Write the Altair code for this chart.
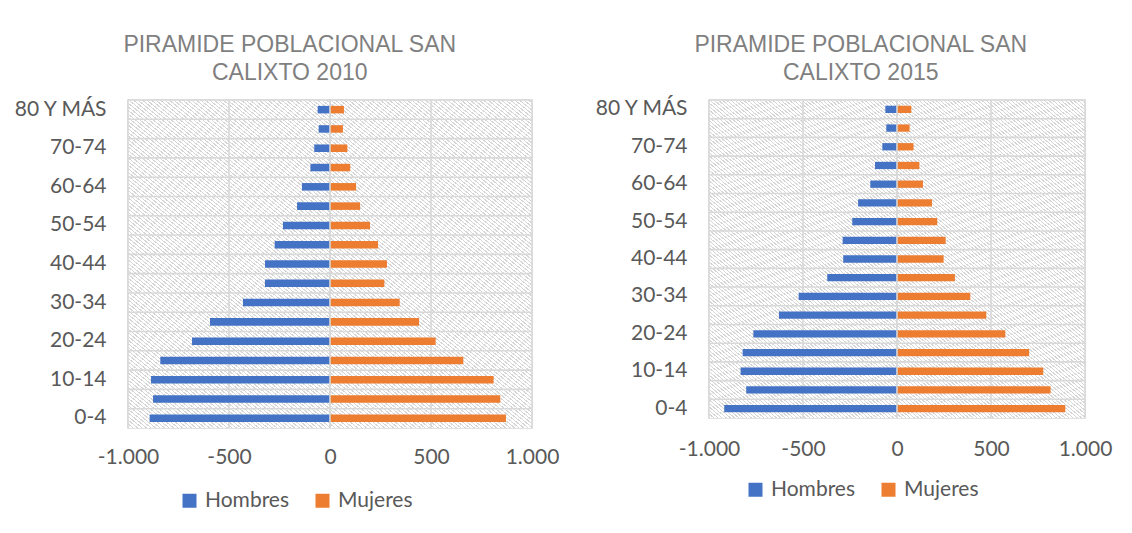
import json
import altair as alt
import pandas as pd

ages = ["0-4", "5-9", "10-14", "15-19", "20-24", "25-29", "30-34", "35-39", "40-44",
        "45-49", "50-54", "55-59", "60-64", "65-69", "70-74", "75-79", "80 Y MÁS"]
shown_ages = ages[::2]
sexes = ["Hombres", "Mujeres"]

hombres_2010 = [-893, -876, -886, -840, -683, -594, -431, -322, -322, -274, -233, -163, -139, -97, -78, -56, -61]
mujeres_2010 = [871, 843, 810, 660, 523, 441, 345, 269, 282, 238, 198, 149, 129, 100, 86, 64, 69]
hombres_2015 = [-919, -802, -832, -821, -764, -628, -523, -371, -286, -289, -238, -207, -142, -117, -78, -57, -62]
mujeres_2015 = [895, 817, 778, 703, 576, 475, 390, 308, 248, 259, 214, 186, 138, 119, 88, 67, 76]
x_ticks = [-1000, -500, 0, 500, 1000]

LABEL_FONT = "Lato"
GRID = "#d9d9d9"
TEXT = "#595959"

# light diagonal hatch used as the plot-area background (style only)
N_STRIPES = 180
STRIPE_FRAC = 0.35
hatch_stops = []
for i in range(N_STRIPES):
    t0 = i / N_STRIPES
    t1 = (i + STRIPE_FRAC) / N_STRIPES
    t2 = (i + 1) / N_STRIPES
    hatch_stops += [
        {"offset": round(t0, 6), "color": "#d6d6d6"},
        {"offset": round(t1, 6), "color": "#d6d6d6"},
        {"offset": round(t1, 6), "color": "#ffffff"},
        {"offset": round(t2, 6), "color": "#ffffff"},
    ]
hatch = {"gradient": "linear", "x1": 0, "y1": 1, "x2": 1, "y2": 0, "stops": hatch_stops}

x_label_expr = ("datum.value == 0 ? '0' : (datum.value < 0 ? '-' : '') + "
                "replace(format(abs(datum.value), ','), ',', '.')")
y_label_expr = "indexof(" + json.dumps(shown_ages, ensure_ascii=False) + ", datum.value) >= 0 ? datum.value : ''"

y_sort = ages[::-1]


def panel(year, hombres, mujeres, w, h, title_dx, legend_x, legend_y, x_label_pad):
    df = pd.DataFrame({
        "edad": ages * 2,
        "sexo": [sexes[0]] * len(ages) + [sexes[1]] * len(ages),
        "valor": hombres + mujeres,
    })
    x_enc = alt.X("valor:Q", stack=None,
                  scale=alt.Scale(domain=[x_ticks[0], x_ticks[-1]], nice=False),
                  axis=alt.Axis(values=x_ticks, labelExpr=x_label_expr, title=None,
                                labelFlush=False, labelPadding=x_label_pad, grid=False))
    y_enc = alt.Y("edad:N", sort=y_sort,
                  scale=alt.Scale(paddingInner=0, paddingOuter=0),
                  axis=alt.Axis(labelExpr=y_label_expr, title=None,
                                labelPadding=22, grid=False))

    background = alt.Chart(pd.DataFrame({"a": [x_ticks[0]], "b": [x_ticks[-1]]})).mark_rect(
        fill=hatch, stroke=None
    ).encode(x=alt.X("a:Q"), x2="b:Q")

    hgrid = alt.Chart(pd.DataFrame({"edad": ages})).mark_rule(
        color=GRID, strokeWidth=1.6
    ).encode(y=alt.Y("edad:N", sort=y_sort, bandPosition=0))

    vgrid = alt.Chart(pd.DataFrame({"valor": x_ticks})).mark_rule(
        color=GRID, strokeWidth=1.6
    ).encode(x=alt.X("valor:Q"))

    bars = alt.Chart(df).mark_bar(height={"band": 0.39}).encode(
        x=x_enc,
        y=y_enc,
        color=alt.Color("sexo:N",
                        scale=alt.Scale(domain=sexes, range=["#4472C4", "#ED7D31"]),
                        legend=alt.Legend(title=None, orient="none", direction="horizontal",
                                          legendX=legend_x, legendY=legend_y,
                                          symbolType="square", symbolSize=196,
                                          symbolStrokeWidth=0, labelFontSize=21,
                                          labelFont=LABEL_FONT, labelColor=TEXT,
                                          labelOffset=5, columnPadding=22)),
    )
    zero = alt.Chart(pd.DataFrame({"valor": [0]})).mark_rule(
        color=GRID, strokeWidth=1.6
    ).encode(x=alt.X("valor:Q"))

    return alt.layer(background, hgrid, vgrid, bars, zero).properties(
        width=w, height=h,
        title=alt.Title(["PIRAMIDE POBLACIONAL SAN", f"CALIXTO {year}"],
                        font="Liberation Sans", fontSize=23, fontWeight="normal",
                        color="#7f7f7f", anchor="middle", lineHeight=28,
                        offset=13, frame="bounds", dx=title_dx),
    )


left = panel(2010, hombres_2010, mujeres_2010, 404, 328, 4, 51, 390, 18)
right = panel(2015, hombres_2015, mujeres_2015, 376, 318, 8, 36, 379, 20)

chart = alt.hconcat(left, right, spacing=32).resolve_legend(color="independent").properties(
    padding={"left": 3, "top": 25, "right": 5, "bottom": 5},
    background="white",
).configure_view(
    stroke=GRID, strokeWidth=1.6
).configure_axis(
    labelFont=LABEL_FONT, labelFontSize=21, labelColor=TEXT,
    domain=False, ticks=False, tickSize=0,
)

chart.save("out.html", embed_options={"renderer": "svg", "actions": False})
